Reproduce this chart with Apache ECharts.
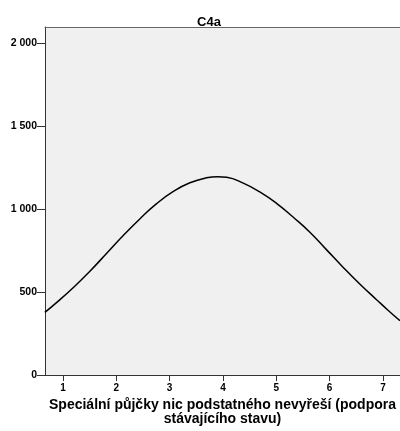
<!DOCTYPE html>
<html>
<head>
<meta charset="utf-8">
<script src="https://cdn.jsdelivr.net/npm/echarts@6/dist/echarts.min.js"></script>
<style>html,body{margin:0;padding:0;background:#fff}#c{width:400px;height:431px}</style>
</head>
<body>
<div id="c"></div>
<script>
var chartTitle = 'C4a';
var xAxisName = 'Speciální půjčky nic podstatného nevyřeší (podpora\nstávajícího stavu)';
var xTicks = [1, 2, 3, 4, 5, 6, 7];
var yTicks = [0, 500, 1000, 1500, 2000];
var curveX = [0.66, 0.9, 1.19, 1.5, 1.82, 2.13, 2.44, 2.75, 3.07, 3.38, 3.69, 3.9, 4.07, 4.38, 4.69, 5.01, 5.32, 5.63, 5.94, 6.26, 6.57, 6.88, 7.1, 7.32];
var curveY = [378, 443, 527, 625, 735, 842, 942, 1033, 1108, 1160, 1190, 1197, 1193, 1158, 1105, 1035, 952, 862, 757, 648, 548, 455, 390, 328];

var fmt = function (v) { return String(v).replace(/\B(?=(\d{3})+(?!\d))/g, ' '); };
var pts = curveX.map(function (x, i) { return [x, curveY[i]]; });
var font = 'Liberation Sans, Arial';
var chart = echarts.init(document.getElementById('c'), null, {renderer: 'canvas'});
chart.setOption({
  animation: false,
  backgroundColor: '#fff',
  title: {
    text: chartTitle, left: 204, top: 11, textAlign: 'center',
    textStyle: {fontFamily: font, fontSize: 13, fontWeight: 'bold', color: '#000'}
  },
  grid: {left: 45, top: 27, right: 0, height: 350, show: true, backgroundColor: '#f0f0f0', borderWidth: 0},
  xAxis: [{
    type: 'value', min: 0.6625, max: 7.32, interval: 1,
    name: xAxisName, nameLocation: 'middle', nameGap: 22,
    nameTextStyle: {fontFamily: font, fontSize: 14, fontWeight: 'bold', color: '#000', lineHeight: 14},
    axisLine: {show: true, lineStyle: {color: '#333', width: 1}},
    axisTick: {show: true, length: 6, lineStyle: {color: '#333'}, customValues: xTicks},
    axisLabel: {fontFamily: font, fontSize: 10, fontWeight: 'bold', color: '#000', margin: 8, customValues: xTicks},
    splitLine: {show: false}
  }, {
    type: 'value', position: 'top', min: 0.6625, max: 7.32,
    axisLine: {show: true, lineStyle: {color: '#666', width: 1}},
    axisTick: {show: false}, axisLabel: {show: false}, splitLine: {show: false}
  }],
  yAxis: {
    type: 'value', min: 0, max: 2100, interval: 500,
    axisLine: {show: true, lineStyle: {color: '#333', width: 1}},
    axisTick: {show: true, length: 8, lineStyle: {color: '#333'}, customValues: yTicks},
    axisLabel: {fontFamily: font, fontSize: 10.5, fontWeight: 'bold', color: '#000', margin: 8, formatter: fmt, customValues: yTicks},
    splitLine: {show: false}
  },
  series: [{
    type: 'line', data: pts, smooth: 0.5, showSymbol: false, symbol: 'none',
    lineStyle: {color: '#000', width: 1.5}
  }]
});
</script>
</body>
</html>
